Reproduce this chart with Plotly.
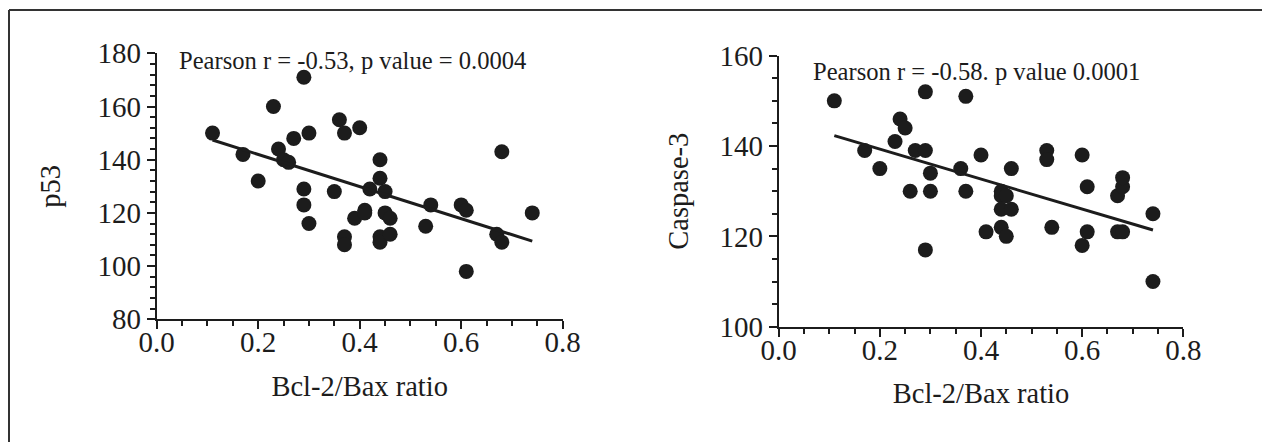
import plotly.graph_objects as go

# ---- data ----
ratio_p53 = [0.11, 0.17, 0.20, 0.23, 0.24, 0.25, 0.26, 0.27, 0.29, 0.30,
             0.29, 0.29, 0.30, 0.35, 0.36, 0.37, 0.37, 0.37, 0.39, 0.40,
             0.41, 0.41, 0.42, 0.44, 0.44, 0.45, 0.45, 0.46, 0.44, 0.44,
             0.46, 0.53, 0.54, 0.60, 0.61, 0.61, 0.67, 0.68, 0.68, 0.74]
p53 = [150, 142, 132, 160, 144, 140, 139, 148, 171, 150,
       129, 123, 116, 128, 155, 150, 111, 108, 118, 152,
       121, 120, 129, 140, 133, 128, 120, 118, 111, 109,
       112, 115, 123, 123, 121, 98, 112, 109, 143, 120]

ratio_casp = [0.11, 0.17, 0.20, 0.23, 0.24, 0.25, 0.26, 0.27, 0.29, 0.29,
              0.30, 0.30, 0.29, 0.36, 0.37, 0.37, 0.40, 0.41, 0.44, 0.44,
              0.45, 0.44, 0.46, 0.44, 0.45, 0.46, 0.53, 0.53, 0.54, 0.60,
              0.61, 0.60, 0.61, 0.67, 0.68, 0.68, 0.67, 0.68, 0.74, 0.74]
caspase3 = [150, 139, 135, 141, 146, 144, 130, 139, 139, 152,
            134, 130, 117, 135, 151, 130, 138, 121, 130, 129,
            129, 126, 126, 122, 120, 135, 139, 137, 122, 138,
            131, 118, 121, 129, 131, 133, 121, 121, 125, 110]

# regression lines as drawn (values at the ends of the line)
fit_x = [0.11, 0.74]
p53_fit = [147.4, 109.4]
casp_fit = [142.3, 121.4]

x_ticks = [0.0, 0.2, 0.4, 0.6, 0.8]
x_tick_text = ["0.0", "0.2", "0.4", "0.6", "0.8"]
p53_ticks = [80, 100, 120, 140, 160, 180]
casp_ticks = [100, 120, 140, 160]

x_title = "Bcl-2/Bax ratio"
left_note = "Pearson r = -0.53, p value = 0.0004"
right_note = "Pearson r = -0.58. p value 0.0001"

W, H = 1262, 442
FONT = "Liberation Serif, Times New Roman, serif"
INK = "#1c1c1c"

def px(x):
    return x / W

def py(y):
    return 1 - y / H

fig = go.Figure()

marker = dict(size=15, color=INK, line=dict(width=0))
fig.add_trace(go.Scatter(x=ratio_p53, y=p53, mode="markers", marker=marker,
                         xaxis="x", yaxis="y", showlegend=False, hoverinfo="x+y"))
fig.add_trace(go.Scatter(x=fit_x, y=p53_fit, mode="lines",
                         line=dict(color=INK, width=3),
                         xaxis="x", yaxis="y", showlegend=False))
fig.add_trace(go.Scatter(x=ratio_casp, y=caspase3, mode="markers", marker=marker,
                         xaxis="x2", yaxis="y2", showlegend=False, hoverinfo="x+y"))
fig.add_trace(go.Scatter(x=fit_x, y=casp_fit, mode="lines",
                         line=dict(color=INK, width=3),
                         xaxis="x2", yaxis="y2", showlegend=False))

TICK_SIZE = 29
TITLE_SIZE = 28.5

common_x = dict(
    range=[0, 0.8], tickvals=x_ticks, ticktext=x_tick_text,
    showgrid=False, zeroline=False, showline=True, linecolor=INK, linewidth=2,
    ticks="outside", ticklen=8, tickwidth=2, tickcolor=INK, ticklabelstandoff=-12,
    minor=dict(dtick=0.05, ticks="outside", ticklen=5, tickwidth=2, tickcolor=INK, showgrid=False),
    tickfont=dict(family=FONT, size=TICK_SIZE, color=INK),
    title=dict(text=x_title, font=dict(family=FONT, size=TITLE_SIZE, color=INK), standoff=19),
    automargin=False, fixedrange=True,
)
common_y = dict(
    showgrid=False, zeroline=False, showline=True, linecolor=INK, linewidth=2,
    ticks="outside", ticklen=8, tickwidth=2, tickcolor=INK,
    tickfont=dict(family=FONT, size=TICK_SIZE, color=INK),
    automargin=False, fixedrange=True,
)

fig.update_layout(
    width=W, height=H,
    margin=dict(l=0, r=0, t=0, b=0),
    paper_bgcolor="white", plot_bgcolor="white",
    font=dict(family=FONT, color=INK),
    xaxis=dict(domain=[px(156.7), px(562.7)], anchor="y", **common_x),
    yaxis=dict(domain=[py(319.3), py(53.3)], anchor="x", range=[80, 180],
               tickvals=p53_ticks,
               minor=dict(dtick=4, ticks="outside", ticklen=5, tickwidth=2, tickcolor=INK, showgrid=False),
               title=dict(text="p53", font=dict(family=FONT, size=TITLE_SIZE, color=INK), standoff=28),
               **common_y),
    xaxis2=dict(domain=[px(778.7), px(1183.3)], anchor="y2", **common_x),
    yaxis2=dict(domain=[py(326.7), py(55.7)], anchor="x2", range=[100, 160],
                tickvals=casp_ticks,
                minor=dict(dtick=5, ticks="outside", ticklen=5, tickwidth=2, tickcolor=INK, showgrid=False),
                title=dict(text="Caspase-3", font=dict(family=FONT, size=TITLE_SIZE, color=INK), standoff=22),
                **common_y),
    annotations=[
        dict(text=left_note, x=px(177), y=py(61), xref="paper", yref="paper",
             xanchor="left", yanchor="middle", showarrow=False,
             font=dict(family=FONT, size=24.6, color=INK)),
        dict(text=right_note, x=px(811), y=py(71), xref="paper", yref="paper",
             xanchor="left", yanchor="middle", showarrow=False,
             font=dict(family=FONT, size=24.6, color=INK)),
    ],
    shapes=[
        dict(type="line", xref="paper", yref="paper", x0=px(9), x1=1.01, y0=py(10), y1=py(10),
             line=dict(color="#333333", width=2)),
        dict(type="line", xref="paper", yref="paper", x0=px(9), x1=px(9), y0=py(10), y1=-0.01,
             line=dict(color="#333333", width=2)),
    ],
)

fig.write_html(
    "out.html",
    config={"displayModeBar": False},
    post_script="document.body.style.margin='0';document.body.style.overflow='hidden';",
)
